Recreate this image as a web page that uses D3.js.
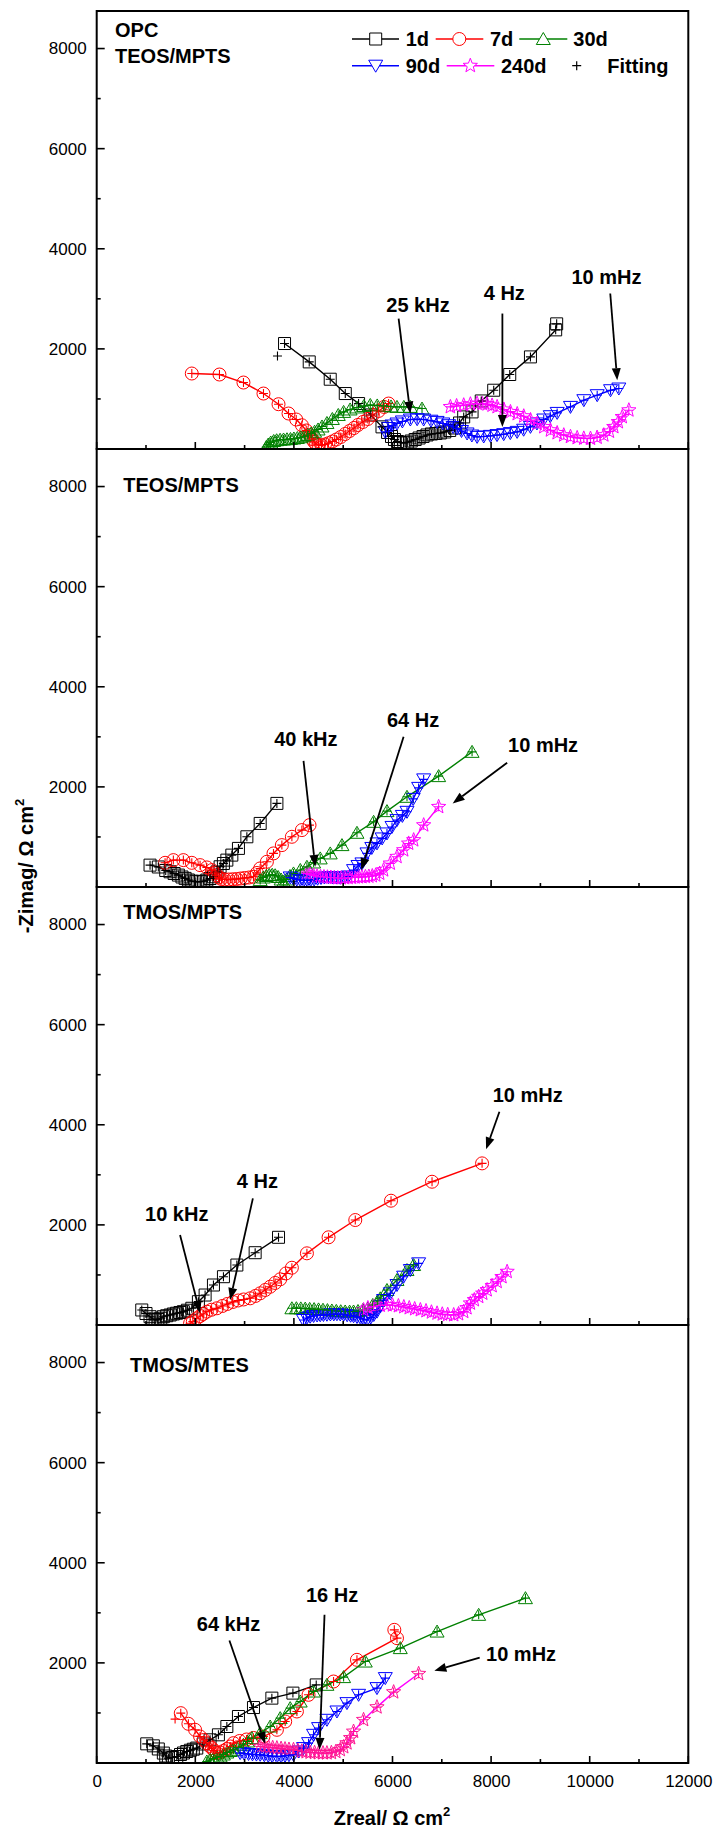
<!DOCTYPE html>
<html><head><meta charset="utf-8">
<script src="https://cdn.jsdelivr.net/npm/d3@7"></script>
<style>body{margin:0;background:#fff}svg{display:block}text{font-family:"Liberation Sans",Arial,sans-serif}</style>
</head><body><svg id="c" width="715" height="1834"></svg>
<script>
// ---------- data ----------
const xTicks=[0,2000,4000,6000,8000,10000,12000];
const yTicks=[2000,4000,6000,8000];
const seriesNames=["1d","7d","30d","90d","240d"];
const panelNames=[["OPC","TEOS/MPTS"],["TEOS/MPTS"],["TMOS/MPTS"],["TMOS/MTES"]];

// Panel 1 : OPC TEOS/MPTS
const p1_1d=[[3810,2107],[4311,1740],[4737,1394],[5042,1108],[5312,908],[5560,680],[5787,442],[5900,330],[5980,250],[6040,190],[6100,150],[6160,130],[6230,120],[6300,135],[6380,160],[6460,190],[6540,220],[6620,250],[6700,280],[6790,300],[6880,310],[6970,320],[7060,340],[7160,370],[7260,420],[7360,520],[7444,641],[7614,741],[7800,960],[8053,1174],[8378,1488],[8798,1840],[9310,2380],[9330,2500]];
const p1_7d=[[1929,1508],[2490,1488],[2977,1328],[3383,1108],[3688,895],[3891,709],[4047,589],[4162,475],[4250,370],[4320,280],[4370,200],[4410,140],[4450,100],[4500,80],[4560,75],[4630,90],[4700,115],[4780,150],[4860,190],[4950,240],[5040,300],[5130,360],[5220,420],[5300,480],[5400,540],[5500,600],[5600,680],[5720,760],[5830,840],[5921,908]];
const p1_30d=[[3440,40],[3480,90],[3530,130],[3590,160],[3650,175],[3720,185],[3790,190],[3860,195],[3930,200],[4000,210],[4070,220],[4140,235],[4210,255],[4280,280],[4350,310],[4420,345],[4490,390],[4570,450],[4670,520],[4780,600],[4900,680],[5008,741],[5140,790],[5279,830],[5420,860],[5549,880],[5690,870],[5819,860],[5970,850],[6091,841],[6230,841],[6362,841],[6599,808]];
const p1_90d=[[5854,342],[5920,420],[5990,470],[6091,509],[6200,550],[6362,589],[6500,595],[6632,589],[6780,565],[6904,541],[7020,510],[7140,475],[7230,440],[7310,409],[7400,360],[7513,310],[7610,270],[7716,242],[7850,250],[7986,262],[8120,278],[8256,296],[8390,318],[8528,342],[8660,385],[8798,442],[8930,510],[9068,589],[9200,655],[9340,721],[9610,841],[9881,975],[10152,1075],[10423,1174],[10591,1208]];
const p1_240d=[[7174,841],[7300,860],[7444,875],[7580,895],[7716,908],[7820,905],[7919,895],[8020,870],[8122,841],[8260,790],[8392,741],[8530,700],[8662,655],[8800,580],[8934,509],[9070,440],[9204,375],[9340,320],[9474,276],[9610,245],[9746,222],[9880,212],[10016,209],[10150,230],[10286,276],[10400,350],[10489,442],[10580,540],[10660,641],[10794,775]];

// Panel 2 : TEOS/MPTS
const p2_1d=[[1082,437],[1250,400],[1400,330],[1488,304],[1570,270],[1657,238],[1730,200],[1793,172],[1860,140],[1929,118],[2010,105],[2097,104],[2170,115],[2234,138],[2300,170],[2368,204],[2440,300],[2503,404],[2570,470],[2640,537],[2741,637],[2875,771],[3046,1003],[3316,1270],[3655,1670]];
const p2_7d=[[1387,483],[1555,537],[1758,537],[1929,483],[2097,437],[2234,391],[2335,337],[2400,280],[2437,238],[2480,190],[2530,160],[2600,150],[2680,150],[2760,155],[2840,160],[2920,170],[3000,180],[3090,190],[3180,204],[3250,280],[3316,371],[3452,504],[3586,671],[3756,837],[3959,1003],[4162,1137],[4317,1236]];
const p2_30d=[[3316,138],[3380,190],[3440,220],[3500,240],[3560,245],[3620,235],[3680,200],[3740,150],[3789,104],[3850,150],[3920,220],[3992,271],[4130,340],[4264,404],[4400,490],[4534,571],[4737,671],[4975,837],[5279,1083],[5617,1302],[5888,1516],[6294,1802],[6936,2215],[7614,2700]];
const p2_90d=[[3925,191],[3990,170],[4060,150],[4130,140],[4200,135],[4270,135],[4340,140],[4410,150],[4480,165],[4550,180],[4620,190],[4700,195],[4780,195],[4860,190],[4940,185],[5020,190],[5100,210],[5210,337],[5300,420],[5380,471],[5482,671],[5580,780],[5685,871],[5790,970],[5888,1070],[5990,1200],[6091,1336],[6200,1420],[6294,1502],[6420,1760],[6530,1980],[6632,2150]];
const p2_240d=[[4264,271],[4330,250],[4400,230],[4470,215],[4540,205],[4610,200],[4680,195],[4750,190],[4820,185],[4890,180],[4960,178],[5030,180],[5100,185],[5170,190],[5240,195],[5310,198],[5380,200],[5450,205],[5520,210],[5590,220],[5660,235],[5740,270],[5819,337],[5955,471],[6091,604],[6226,737],[6327,870],[6429,937],[6632,1236],[6936,1602]];

// Panel 3 : TMOS/MPTS
const p3_1d=[[914,300],[1000,230],[1082,166],[1140,120],[1184,100],[1240,110],[1300,135],[1352,166],[1420,185],[1490,200],[1555,220],[1620,235],[1690,250],[1758,266],[1840,295],[1929,334],[2063,466],[2199,599],[2368,799],[2571,965],[2843,1198],[3214,1444],[3688,1752]];
const p3_7d=[[1894,34],[1950,70],[2030,134],[2100,180],[2160,220],[2234,266],[2330,305],[2437,334],[2550,380],[2650,420],[2760,460],[2870,490],[2980,510],[3113,533],[3220,580],[3316,633],[3420,700],[3519,765],[3620,840],[3722,913],[3840,1030],[3959,1144],[4264,1432],[4703,1752],[5245,2097],[5970,2483],[6802,2862],[7817,3229]];
const p3_30d=[[3959,334],[4050,335],[4140,332],[4230,328],[4320,322],[4410,318],[4500,312],[4590,305],[4680,298],[4770,290],[4860,282],[4950,275],[5040,270],[5130,268],[5210,270],[5300,280],[5400,300],[5500,330],[5600,400],[5700,480],[5752,533],[5888,699],[6091,899],[6294,1098],[6429,1198]];
const p3_90d=[[4195,100],[4260,140],[4330,165],[4400,180],[4470,190],[4534,195],[4600,200],[4670,205],[4740,210],[4810,212],[4873,214],[4940,210],[5010,205],[5080,195],[5150,185],[5210,175],[5280,160],[5350,140],[5420,115],[5482,100],[5560,150],[5620,200],[5685,266],[5750,380],[5819,499],[5955,633],[6091,799],[6226,965],[6362,1098],[6530,1232]];
const p3_240d=[[5413,300],[5500,340],[5617,366],[5750,390],[5888,400],[6000,395],[6120,380],[6230,360],[6340,340],[6450,320],[6565,300],[6680,280],[6790,255],[6904,233],[7010,215],[7120,205],[7241,200],[7340,220],[7444,266],[7510,340],[7580,433],[7660,500],[7748,566],[7830,630],[7919,699],[8020,780],[8122,865],[8220,960],[8325,1065]];

// Panel 4 : TMOS/MTES
const p4_1d=[[1015,383],[1149,343],[1250,280],[1352,198],[1400,140],[1454,98],[1540,110],[1624,130],[1700,170],[1760,200],[1827,230],[1900,255],[1960,275],[2030,298],[2160,380],[2300,463],[2469,563],[2640,729],[2875,929],[3180,1108],[3553,1296],[3980,1396],[4453,1560]];
const p4_7d=[[1705,996],[1860,783],[1996,663],[2097,529],[2170,460],[2234,397],[2290,340],[2335,298],[2380,250],[2437,198],[2500,210],[2570,240],[2640,280],[2710,330],[2774,397],[2900,440],[3040,470],[3180,500],[3383,529],[3655,663],[3823,829],[4061,1029],[4297,1362],[4804,1628],[5279,2061],[6091,2494],[6037,2660]];
const p4_30d=[[2234,30],[2300,60],[2370,90],[2440,115],[2503,130],[2570,170],[2640,210],[2710,240],[2774,264],[2870,310],[2977,364],[3060,430],[3147,497],[3316,597],[3519,729],[3722,897],[3925,1096],[4128,1228],[4398,1428],[4670,1562],[5008,1716],[5448,2027],[6158,2295],[6904,2626],[7748,2960],[8697,3293]];
const p4_90d=[[2910,198],[2990,190],[3080,180],[3160,172],[3240,168],[3316,164],[3400,155],[3480,145],[3560,138],[3655,130],[3740,135],[3820,145],[3900,155],[3992,164],[4100,230],[4195,298],[4297,397],[4398,563],[4500,697],[4670,863],[4873,1029],[5076,1196],[5312,1362],[5685,1496],[5854,1696]];
const p4_240d=[[3316,330],[3400,320],[3490,310],[3570,305],[3655,298],[3740,288],[3820,278],[3900,270],[3992,264],[4080,250],[4160,235],[4250,220],[4331,210],[4420,205],[4500,200],[4590,198],[4670,198],[4760,205],[4850,225],[4940,264],[5010,320],[5076,397],[5150,500],[5210,629],[5413,863],[5685,1116],[6023,1416],[6530,1782]];

// extra fitting points that differ from data
const fitExtra=[[0,"1d",[3667,1859]],[3,"7d",[1590,877]]];

// annotations: [panel, text, textX, textY, arrowFromX, arrowFromY, arrowToX, arrowToY] (data units)
const annotations=[
 [0,"25 kHz",5874,2732,6124,2606,6361,709],
 [0,"4 Hz",7850,2972,8229,2706,8229,441],
 [0,"10 mHz",9631,3305,10417,3106,10558,1374],
 [1,"40 kHz",3600,2814,4195,2520,4433,403],
 [1,"64 Hz",5888,3188,6225,3000,5367,338],
 [1,"10 mHz",8345,2700,8325,2481,7220,1670],
 [2,"10 kHz",981,2083,1691,1797,2097,234],
 [2,"4 Hz",2843,2730,3168,2530,2707,499],
 [2,"10 mHz",8033,4460,8169,4260,7898,3509],
 [3,"64 kHz",2030,2646,2692,2447,3417,383],
 [3,"16 Hz",4244,3225,4621,2960,4520,264],
 [3,"10 mHz",7898,2047,7769,2107,6849,1842]
];
const panelLabelPos=[[372,8231,7711],[540,7893],[540,8110],[676,7819]];

const panelData=[
 [p1_1d,p1_7d,p1_30d,p1_90d,p1_240d],
 [p2_1d,p2_7d,p2_30d,p2_90d,p2_240d],
 [p3_1d,p3_7d,p3_30d,p3_90d,p3_240d],
 [p4_1d,p4_7d,p4_30d,p4_90d,p4_240d]
];

// ---------- styles ----------
const colors=["#000000","#ff0000","#008000","#0000ff","#ff00ff"];
const markerColorP4=["#000000","#ff0000","#008000","#0000ff","#ff1493"];
const L=96.7,R=688.3,panelTops=[11,449,887,1325],PH=438;
const svg=d3.select("#c");
const x=d3.scaleLinear().domain([0,12000]).range([L,R]);

function shape(i){
  if(i===0) return "M-6,-6H6V6H-6Z";
  if(i===1) return "M6.5,0A6.5,6.5 0 1,1 -6.5,0A6.5,6.5 0 1,1 6.5,0Z";
  if(i===2) return "M0,-6.5L7,5.5L-7,5.5Z";
  if(i===3) return "M0,6.5L7,-5.5L-7,-5.5Z";
  // star
  let p=[];for(let k=0;k<10;k++){const r=k%2?3.2:7.5;const a=-Math.PI/2+k*Math.PI/5;p.push([r*Math.cos(a),r*Math.sin(a)]);}
  return "M"+p.map(d=>d[0].toFixed(2)+","+d[1].toFixed(2)).join("L")+"Z";
}
const cross="M-4.5,0H4.5M0,-4.5V4.5";

panelTops.forEach((top,pi)=>{
  const y=d3.scaleLinear().domain([0,8750]).range([top+PH,top]);
  const g=svg.append("g");
  const cid="clip"+pi;
  svg.append("clipPath").attr("id",cid).append("rect").attr("x",L).attr("y",top).attr("width",R-L).attr("height",PH);
  const dg=g.append("g").attr("clip-path","url(#"+cid+")");
  const line=d3.line().x(d=>x(d[0])).y(d=>y(d[1]));
  panelData[pi].forEach((ser,si)=>{
    const col=colors[si];
    const mcol=pi===3?markerColorP4[si]:col;
    dg.append("path").attr("d",line(ser)).attr("fill","none").attr("stroke",col).attr("stroke-width",1.4);
    dg.selectAll(null).data(ser).enter().append("path")
      .attr("transform",d=>`translate(${x(d[0])},${y(d[1])})`)
      .attr("d",shape(si)).attr("fill","none").attr("stroke",mcol).attr("stroke-width",1);
  });
  panelData[pi].forEach((ser,si)=>{
    const mcol=pi===3?markerColorP4[si]:colors[si];
    dg.selectAll(null).data(ser).enter().append("path")
      .attr("transform",d=>`translate(${x(d[0])},${y(d[1])})`)
      .attr("d",cross).attr("fill","none").attr("stroke",mcol).attr("stroke-width",1.1);
  });
  fitExtra.filter(f=>f[0]===pi).forEach(f=>{
    const si=seriesNames.indexOf(f[1]);
    dg.append("path").attr("transform",`translate(${x(f[2][0])},${y(f[2][1])})`)
      .attr("d",cross).attr("fill","none").attr("stroke",colors[si]).attr("stroke-width",1.1);
  });

  // axes: left
  const ya=d3.axisLeft(y).tickValues(yTicks).tickSize(0).tickPadding(10).tickFormat(d3.format("d"));
  const yag=g.append("g").attr("transform",`translate(${L},0)`).call(ya);
  yag.select(".domain").remove();
  yag.selectAll("text").attr("font-size",17).attr("font-family","Liberation Sans, Arial, sans-serif");
  // inward ticks
  const yMaj=[0,2000,4000,6000,8000],yMin=[1000,3000,5000,7000];
  g.selectAll(null).data(yMaj).enter().append("line").attr("x1",L).attr("x2",L+8).attr("y1",d=>y(d)).attr("y2",d=>y(d)).attr("stroke","#000").attr("stroke-width",1.6);
  g.selectAll(null).data(yMin).enter().append("line").attr("x1",L).attr("x2",L+4).attr("y1",d=>y(d)).attr("y2",d=>y(d)).attr("stroke","#000").attr("stroke-width",1.6);
  const xMin=d3.range(1000,12000,2000);
  g.selectAll(null).data(xTicks).enter().append("line").attr("y1",top+PH).attr("y2",top+PH-7).attr("x1",d=>x(d)).attr("x2",d=>x(d)).attr("stroke","#000").attr("stroke-width",1.6);
  g.selectAll(null).data(xMin).enter().append("line").attr("y1",top+PH).attr("y2",top+PH-4).attr("x1",d=>x(d)).attr("x2",d=>x(d)).attr("stroke","#000").attr("stroke-width",1.6);
  // frame
  g.append("rect").attr("x",L).attr("y",top).attr("width",R-L).attr("height",PH).attr("fill","none").attr("stroke","#000").attr("stroke-width",2);

  // panel label
  const pl=panelLabelPos[pi];
  panelNames[pi].forEach((t,k)=>{
    g.append("text").attr("x",x(pl[0])).attr("y",y(pl[1+k])).attr("font-size",20).attr("font-weight","bold").text(t);
  });
  // annotations
  annotations.filter(a=>a[0]===pi).forEach(a=>{
    g.append("text").attr("x",x(a[2])).attr("y",y(a[3])).attr("font-size",20).attr("font-weight","bold").text(a[1]);
    const x1=x(a[4]),y1=y(a[5]),x2=x(a[6]),y2=y(a[7]);
    const ang=Math.atan2(y2-y1,x2-x1),hl=12,hw=4.5;
    const bx=x2-hl*Math.cos(ang),by=y2-hl*Math.sin(ang);
    g.append("line").attr("x1",x1).attr("y1",y1).attr("x2",bx).attr("y2",by).attr("stroke","#000").attr("stroke-width",1.8);
    const px=-Math.sin(ang)*hw,py=Math.cos(ang)*hw;
    g.append("path").attr("d",`M${x2},${y2}L${bx+px},${by+py}L${bx-px},${by-py}Z`).attr("fill","#000");
  });
  if(pi===3){
    const xa=d3.axisBottom(x).tickValues(xTicks).tickSize(0).tickPadding(12).tickFormat(d3.format("d"));
    const xag=g.append("g").attr("transform",`translate(0,${top+PH})`).call(xa);
    xag.select(".domain").remove();
    xag.selectAll("text").attr("font-size",17).attr("font-family","Liberation Sans, Arial, sans-serif");
  }
});

// legend
const lg=svg.append("g");
const legendItems=[
 [0,39,352,399,375.7,405.7],[1,39,435.7,483.3,459.3,490],[2,39,519.3,567.3,543.3,573.3],
 [3,65.7,352,399,375.7,405.7],[4,65.7,446.7,494.3,470.3,501]
];
legendItems.forEach(it=>{
  const [si,yy,x1,x2,mx,tx]=it;
  lg.append("line").attr("x1",x1).attr("x2",x2).attr("y1",yy).attr("y2",yy).attr("stroke",colors[si]).attr("stroke-width",1.4);
  lg.append("path").attr("transform",`translate(${mx},${yy})`).attr("d",shape(si)).attr("fill","#fff").attr("stroke",colors[si]).attr("stroke-width",1);
  lg.append("text").attr("x",tx).attr("y",yy+7).attr("font-size",20).attr("font-weight","bold").text(seriesNames[si]);
});
lg.append("path").attr("transform","translate(576.7,65.7)").attr("d",cross).attr("stroke","#000").attr("stroke-width",1.2);
lg.append("text").attr("x",607.3).attr("y",72.7).attr("font-size",20).attr("font-weight","bold").text("Fitting");

// axis titles
const yt=svg.append("text").attr("transform","translate(33,866) rotate(-90)").attr("text-anchor","middle").attr("font-size",20).attr("font-weight","bold");
yt.append("tspan").text("-Zimag/ \u03A9 cm");
yt.append("tspan").attr("font-size",13).attr("dy",-9).text("2");
const xt=svg.append("text").attr("x",392).attr("y",1825).attr("text-anchor","middle").attr("font-size",20).attr("font-weight","bold");
xt.append("tspan").text("Zreal/ \u03A9 cm");
xt.append("tspan").attr("font-size",13).attr("dy",-9).text("2");
</script></body></html>
